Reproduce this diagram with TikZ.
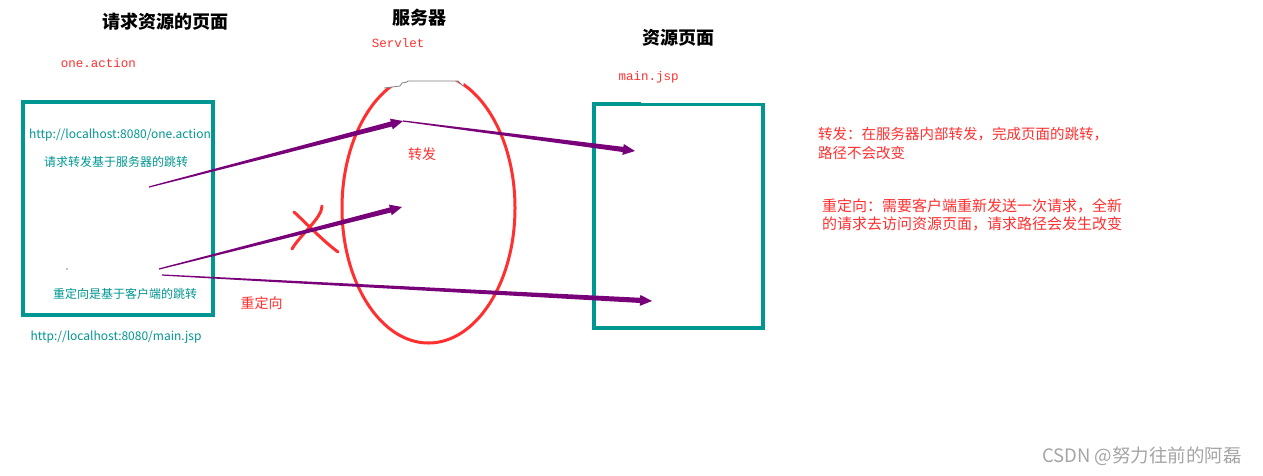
\documentclass[tikz,border=0pt]{standalone}
\usepackage{fontspec}
\setmainfont{Noto Sans CJK SC}
\setmonofont{Liberation Mono}
\usetikzlibrary{calc,shapes.geometric}
\definecolor{tealc}{RGB}{0,150,145}
\definecolor{redc}{RGB}{255,48,48}
\definecolor{purp}{RGB}{120,0,120}
\definecolor{wm}{RGB}{165,165,165}
\newcommand\taparrow[2]{%
  \coordinate (tpe) at ($(#2)!12pt!(#1)$);
  \fill[purp] ($(#1)!0.6pt!90:(#2)$) -- ($(tpe)!2.6pt!90:(#2)$) -- ($(tpe)!5.5pt!90:(#2)$) -- (#2)
    -- ($(tpe)!5.5pt!-90:(#2)$) -- ($(tpe)!2.6pt!-90:(#2)$) -- ($(#1)!0.6pt!-90:(#2)$) -- cycle;}
\begin{document}
\begin{tikzpicture}[x=1pt,y=-1pt,inner sep=0pt,
  title/.style={font=\fontsize{18}{18}\selectfont\bfseries},
  tealtxt/.style={text=tealc,font=\fontsize{12}{12}\selectfont},
  monotxt/.style={text=redc,font=\ttfamily\fontsize{12.5}{12.5}\selectfont},
  redtxt/.style={text=redc,font=\fontsize{14.5}{14.5}\selectfont},
  pagebox/.style={draw=tealc,line width=4pt},
  xmark/.style={draw=redc,line width=3pt,line cap=round}]
\useasboundingbox (0,0) rectangle (1263,475);
\fill[white] (0,0) rectangle (1263,475);

% titles
\node[title] (t1) at (165,22) {请求资源的页面};
\node[title] (t2) at (419,18) {服务器};
\node[title] (t3) at (678,38) {资源页面};
\node[monotxt] (oa) at (98.5,63) {one.action};
\node[monotxt] (sv) at (398,43) {Servlet};
\node[monotxt] (mj) at (648.5,77) {main.jsp};

% left box
\node[pagebox,minimum width=190pt,minimum height=213pt] (lbox) at (118,208.5) {};
\node[tealtxt] (u1) at (120,135) {http://localhost:8080/one.action};
\node[tealtxt] (l1) at (116,162) {请求转发基于服务器的跳转};
\node[tealtxt] (l2) at (125,294) {重定向是基于客户端的跳转};
\node[tealtxt] (u2) at (116,337) {http://localhost:8080/main.jsp};
\fill (67,269) circle (0.7pt);

% right box
\node[pagebox,line width=3.5pt,minimum width=169pt,minimum height=223.5pt] (rbox) at (678.5,216.25) {};
\draw[tealc,line width=2pt] (592,103) -- (641,103);

% server ellipse
\node[draw=redc,line width=3pt,ellipse,minimum width=173pt,minimum height=270pt] (server) at (428.5,208) {};
\fill[white] (384,88) -- (400,86) -- (402,83) -- (407,82) -- (408,81) -- (458,81) -- (463,86) -- (468,66) -- (378,66) -- cycle;
\draw[gray,line width=0.8pt] (384,88) -- (400,86) -- (402,83) -- (407,82) -- (408,81) -- (458,81) -- (463,86);
\node[redtxt,font=\fontsize{14}{14}\selectfont] (zf) at (422,154) {转发};
\node[redtxt,font=\fontsize{14}{14}\selectfont] (cd) at (261.5,303) {重定向};

% red cross
\draw[xmark] (294,212) .. controls (305,222) and (322,240) .. (338,252);
\draw[xmark] (322,206) .. controls (322,218) and (300,235) .. (292,249);

% arrows
\coordinate (f0) at (149,187);
\coordinate (f1) at (403,121);
\coordinate (f2) at (635,151);
\coordinate (r0) at (159,269);
\coordinate (r1) at (402,207);
\coordinate (r2) at (162,275);
\coordinate (r3) at (652,301);
\taparrow{f0}{f1}
\taparrow{f1}{f2}
\taparrow{r0}{r1}
\taparrow{r2}{r3}

% notes
\node[redtxt,anchor=west] (fw1) at (818,134) {转发：在服务器内部转发，完成页面的跳转，};
\node[redtxt,anchor=west] (fw2) at (818,153) {路径不会改变};
\node[redtxt,anchor=west,font=\fontsize{15}{15}\selectfont] (rd1) at (822,206) {重定向：需要客户端重新发送一次请求，全新};
\node[redtxt,anchor=west,font=\fontsize{15}{15}\selectfont] (rd2) at (822,224) {的请求去访问资源页面，请求路径会发生改变};

\node[text=wm,font=\fontsize{18.5}{18.5}\selectfont] (wmk) at (1142,456) {CSDN @努力往前的阿磊};
\end{tikzpicture}
\end{document}
